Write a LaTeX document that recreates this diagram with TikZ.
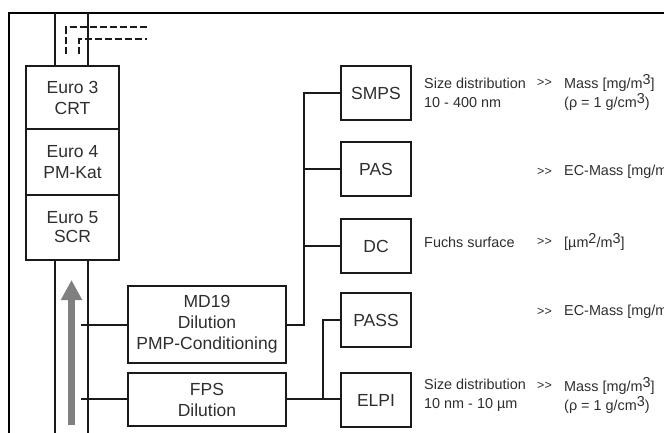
\documentclass[tikz,border=0pt]{standalone}
\usepackage{fontspec}
\setmainfont{Liberation Sans}
\usetikzlibrary{arrows.meta,calc}
\definecolor{txt}{HTML}{2E2E2E}
\definecolor{ln}{HTML}{1A1A1A}
\tikzset{
  box/.style={draw=ln,line width=2pt,fill=white,inner sep=0pt,align=center,text=txt,font=\fontsize{17.5}{21}\selectfont,anchor=north west},
  wire/.style={draw=ln,line width=2pt},
  note/.style={inner sep=0pt,anchor=west,align=left,text=txt,font=\fontsize{14.4}{19}\selectfont},
  gg/.style={inner sep=0pt,anchor=west,text=txt,font=\fontsize{12.5}{15}\selectfont},
  dashline/.style={draw=ln,line width=2pt,dash pattern=on 7pt off 3pt}
}
\newcommand{\supr}[1]{\raisebox{4pt}{#1}}
\begin{document}
\begin{tikzpicture}[x=1pt,y=-1pt]
\useasboundingbox (0,0) rectangle (664,433);
\clip (0,0) rectangle (664,433);
% frame
\draw[line width=2.4pt,draw=black] (664,13) -- (9,13) -- (9,433);
% pipe
\coordinate (p1t) at (54.5,13); \coordinate (p1b) at (54.5,433);
\coordinate (p2t) at (87.5,13); \coordinate (p2b) at (87.5,433);
\draw[wire] (p1t) -- (p1b);
\draw[wire] (p2t) -- (p2b);
% dashed
\coordinate (d1a) at (66,54); \coordinate (d1b) at (66,27.5); \coordinate (d1c) at (147,27.5);
\coordinate (d2a) at (79,54); \coordinate (d2b) at (79,39.5); \coordinate (d2c) at (147,39.5);
\draw[dashline] (d1a) -- (d1b) -- (d1c);
\draw[dashline] (d2a) -- (d2b) -- (d2c);
% catalysts
\node[box,minimum width=93pt,minimum height=63pt] (e3) at (25,65) {Euro 3\\CRT};
\node[box,minimum width=93pt,minimum height=66pt] (e4) at (25,128) {Euro 4\\PM-Kat};
\node[box,minimum width=93pt,minimum height=65pt,font=\fontsize{17.5}{19}\selectfont] (e5) at (25,194) {Euro 5\\SCR};
% flow arrow
\coordinate (fa) at (71.5,425); \coordinate (fb) at (71.5,280);
\draw[draw=gray,line width=6.5pt,-{Triangle[length=20pt,width=20pt]}] (fa) -- (fb);
% dilution
\node[box,minimum width=158pt,minimum height=77pt] (md) at (127,285) {MD19\\Dilution\\PMP-Conditioning};
\node[box,minimum width=158pt,minimum height=53pt] (fps) at (127,372) {FPS\\Dilution};
% instruments
\node[box,minimum width=70pt,minimum height=54pt] (smps) at (340,65) {SMPS};
\node[box,minimum width=70pt,minimum height=54pt] (pas) at (340,141) {PAS};
\node[box,minimum width=70pt,minimum height=54pt] (dc) at (340,218) {DC};
\node[box,minimum width=70pt,minimum height=54pt] (pass) at (340,292) {PASS};
\node[box,minimum width=70pt,minimum height=54pt] (elpi) at (340,372) {ELPI};
% sampling stubs
\coordinate (s1) at (81,325); \coordinate (s2) at (81,399);
\draw[wire] (s1) -- (md.west |- s1);
\draw[wire] (s2) -- (fps.west |- s2);
% MD19 branch
\coordinate (j1) at (304,325);
\draw[wire] (md.east |- j1) -- (j1) -- (j1 |- smps.west) -- (smps.west);
\draw[wire] (j1 |- pas.west) -- (pas.west);
\draw[wire] (j1 |- dc.west) -- (dc.west);
% FPS branch
\coordinate (j3) at (322.5,399);
\draw[wire] (fps.east |- j3) -- (elpi.west |- j3);
\draw[wire] (j3) -- (j3 |- pass.west) -- (pass.west);
% notes
\node[note] (n1) at (424,92.5) {Size distribution\\10 - 400 nm};
\node[gg] (a1) at (537,83) {>{}>};
\node[note] (m1) at (564,92.5) {Mass [mg/m\supr{3}]\\(ρ = 1 g/cm\supr{3})};
\node[gg] (a2) at (537,172) {>{}>};
\node[note] (m2) at (564,172) {EC-Mass [mg/m};
\node[note] (n3) at (424,242) {Fuchs surface};
\node[gg] (a3) at (537,242) {>{}>};
\node[note] (m3) at (564,242) {[µm\supr{2}/m\supr{3}]};
\node[gg] (a4) at (537,312) {>{}>};
\node[note] (m4) at (564,312) {EC-Mass [mg/m};
\node[note] (n5) at (424,395) {Size distribution\\10 nm - 10 µm};
\node[gg] (a5) at (537,386) {>{}>};
\node[note] (m5) at (564,395) {Mass [mg/m\supr{3}]\\(ρ = 1 g/cm\supr{3})};
\end{tikzpicture}
\end{document}
